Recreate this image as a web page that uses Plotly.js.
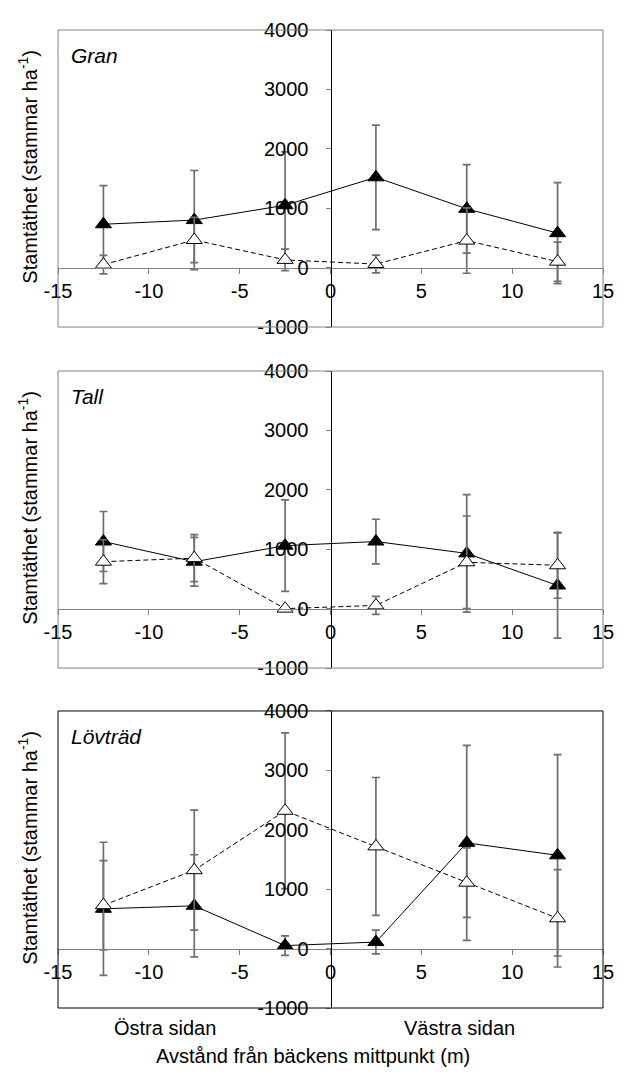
<!DOCTYPE html>
<html><head><meta charset="utf-8">
<script src="https://cdn.plot.ly/plotly-3.0.1.min.js"></script>
<style>body{margin:0;background:#fff}</style></head>
<body><div id="chart" style="width:628px;height:1078px"></div>
<script>
const distances = [-12.5, -7.5, -2.5, 2.5, 7.5, 12.5];
const panelNames = ['Gran', 'Tall', 'Lövträd'];

const granFilled = [730, 800, 1050, 1520, 990, 580];
const granFilledErr = [650, 835, 900, 880, 745, 850];
const granOpen = [50, 465, 130, 60, 455, 100];
const granOpenErr = [155, 380, 180, 150, 550, 330];

const tallFilled = [1130, 790, 1060, 1130, 930, 390];
const tallFilledErr = [505, 410, 770, 375, 990, 885];
const tallOpen = [790, 850, 0, 55, 780, 730];
const tallOpenErr = [370, 395, 0, 150, 780, 555];

const lovFilled = [670, 720, 50, 110, 1780, 1570];
const lovFilledErr = [1120, 860, 165, 200, 1640, 1695];
const lovOpen = [730, 1320, 2320, 1720, 1110, 510];
const lovOpenErr = [750, 1010, 1310, 1160, 585, 820];

const xTickVals = [-15, -10, -5, 0, 5, 10, 15];
const xTickText = ['-15', '-10', '-5', '0', '5', '10', '15'];
const yTickVals = [-1000, 0, 1000, 2000, 3000, 4000];
const yTickText = ['-1000', '0', '1000', '2000', '3000', '4000'];

const yTitle = 'Stamtäthet (stammar ha<sup>-1</sup>)';
const sideLabels = ['Östra sidan', 'Västra sidan'];
const xTitle = 'Avstånd från bäckens mittpunkt (m)';

const panels = [
  {filled: granFilled, filledErr: granFilledErr, open: granOpen, openErr: granOpenErr, frame: '#808080'},
  {filled: tallFilled, filledErr: tallFilledErr, open: tallOpen, openErr: tallOpenErr, frame: '#808080'},
  {filled: lovFilled, filledErr: lovFilledErr, open: lovOpen, openErr: lovOpenErr, frame: '#000000'}
];

const FONT = 'Liberation Sans, Arial, sans-serif';
const FS = 20;
const domains = [[0.6963, 1.0], [0.3476, 0.6513], [0.0, 0.3037]];

const traces = [];
const layout = {
  width: 628, height: 1078,
  margin: {l: 58, r: 25, t: 30, b: 70},
  paper_bgcolor: '#fff', plot_bgcolor: 'rgba(0,0,0,0)',
  showlegend: false,
  font: {family: FONT, size: FS, color: '#000'},
  shapes: [], annotations: []
};

panels.forEach((p, i) => {
  const n = i + 1;
  const xa = n === 1 ? 'x' : 'x' + n;
  const ya = n === 1 ? 'y' : 'y' + n;
  const errStyle = {type: 'data', visible: true, color: '#6e6e6e', thickness: 1.7, width: 4};
  traces.push({
    x: distances, y: p.filled, xaxis: xa, yaxis: ya, type: 'scatter', mode: 'lines+markers',
    line: {color: '#000', width: 1},
    marker: {symbol: 'triangle-up', size: 14, color: '#000', line: {color: '#000', width: 1}},
    error_y: Object.assign({array: p.filledErr}, errStyle), cliponaxis: false
  });
  traces.push({
    x: distances, y: p.open, xaxis: xa, yaxis: ya, type: 'scatter', mode: 'lines+markers',
    line: {color: '#000', width: 1, dash: '5px,3px'},
    marker: {symbol: 'triangle-up', size: 14, color: '#fff', line: {color: '#000', width: 1}},
    error_y: Object.assign({array: p.openErr}, errStyle), cliponaxis: false
  });
  const d = domains[i];
  layout['xaxis' + (n === 1 ? '' : n)] = {
    domain: [0, 1], range: [-15, 15], anchor: 'free',
    position: d[0] + 0.2 * (d[1] - d[0]),
    showline: true, linecolor: '#808080', linewidth: 1,
    ticks: 'outside', ticklen: 5, tickcolor: '#808080', tickwidth: 1,
    tickvals: xTickVals, ticktext: xTickText,
    showgrid: false, zeroline: false, fixedrange: true,
    tickfont: {family: FONT, size: FS, color: '#000'}
  };
  layout['yaxis' + (n === 1 ? '' : n)] = {
    domain: d, range: [-1000, 4000], anchor: 'free', position: 0.5,
    showline: true, linecolor: '#000', linewidth: 1,
    ticks: 'outside', ticklen: 5, tickcolor: '#808080', tickwidth: 1,
    ticklabelstandoff: 13,
    tickvals: yTickVals, ticktext: yTickText,
    showgrid: false, zeroline: false, fixedrange: true,
    tickfont: {family: FONT, size: FS, color: '#000'}
  };
  layout.shapes.push({
    type: 'rect', xref: xa + ' domain', yref: ya + ' domain',
    x0: 0, x1: 1, y0: 0, y1: 1, line: {color: p.frame, width: 1}, layer: 'above'
  });
  layout.annotations.push({
    text: '<i>' + panelNames[i] + '</i>', xref: xa + ' domain', yref: ya + ' domain',
    x: 0.02, y: 0.915, xanchor: 'left', yanchor: 'middle', showarrow: false,
    font: {family: FONT, size: FS + 1, color: '#000'}
  });
  layout.annotations.push({
    text: yTitle, xref: 'paper', yref: ya + ' domain',
    x: -0.055, y: 0.54, xanchor: 'center', yanchor: 'middle', textangle: -90, showarrow: false,
    font: {family: FONT, size: FS, color: '#000'}
  });
});

layout.annotations.push({
  text: sideLabels[0], xref: 'x3', yref: 'paper', x: -9.1, y: 0, xanchor: 'center', yanchor: 'top',
  yshift: -7, showarrow: false, font: {family: FONT, size: FS, color: '#000'}
});
layout.annotations.push({
  text: sideLabels[1], xref: 'x3', yref: 'paper', x: 7.1, y: 0, xanchor: 'center', yanchor: 'top',
  yshift: -7, showarrow: false, font: {family: FONT, size: FS, color: '#000'}
});
layout.annotations.push({
  text: xTitle, xref: 'x3', yref: 'paper', x: -0.95, y: 0, xanchor: 'center', yanchor: 'top',
  yshift: -35, showarrow: false, font: {family: FONT, size: FS, color: '#000'}
});

Plotly.newPlot('chart', traces, layout, {staticPlot: true, displayModeBar: false});
</script></body></html>
